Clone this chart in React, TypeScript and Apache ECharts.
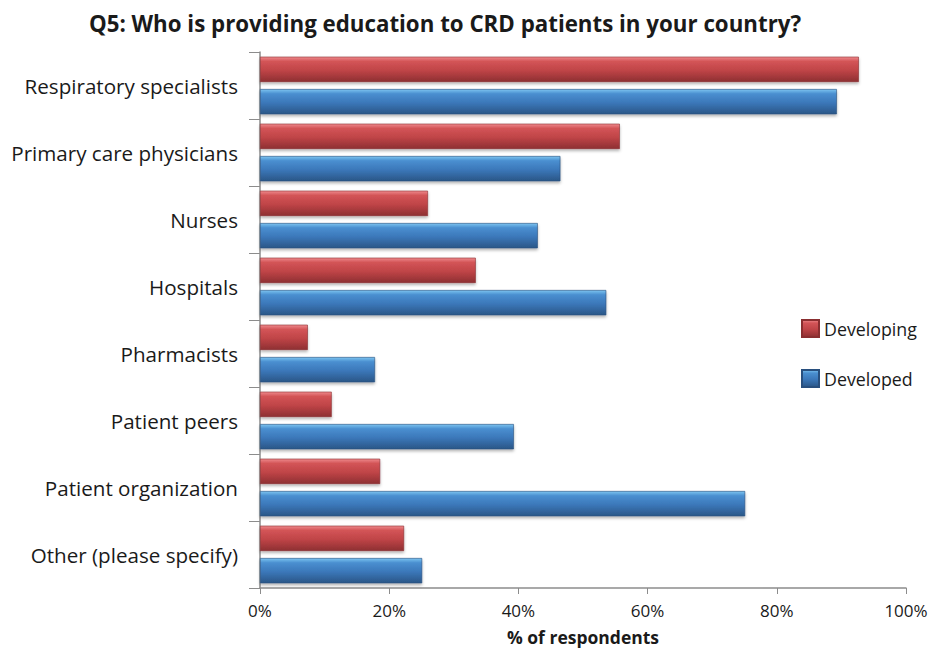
import React, { useEffect, useRef } from "react";
import * as echarts from "echarts";

const categories = [
  "Respiratory specialists",
  "Primary care physicians",
  "Nurses",
  "Hospitals",
  "Pharmacists",
  "Patient peers",
  "Patient organization",
  "Other (please specify)",
];
const developing = [92.7, 55.7, 26.0, 33.4, 7.4, 11.1, 18.6, 22.3];
const developed = [89.3, 46.5, 43.0, 53.6, 17.8, 39.3, 75.1, 25.1];
const xTicks = [0, 20, 40, 60, 80, 100];

const FONT = "'Open Sans', 'Noto Sans', sans-serif";

const redGrad = new echarts.graphic.LinearGradient(0, 0, 0, 1, [
  { offset: 0, color: "#ee8a8c" },
  { offset: 0.18, color: "#d35457" },
  { offset: 0.55, color: "#bf4447" },
  { offset: 1, color: "#8e3032" },
]);
const blueGrad = new echarts.graphic.LinearGradient(0, 0, 0, 1, [
  { offset: 0, color: "#7cc4f0" },
  { offset: 0.18, color: "#4a8fd0" },
  { offset: 0.55, color: "#3b77b9" },
  { offset: 1, color: "#2a5687" },
]);

export default function App() {
  const ref = useRef<HTMLDivElement>(null);
  useEffect(() => {
    if (!ref.current) return;
    const chart = echarts.init(ref.current, null, { renderer: "svg" });
    chart.setOption({
      animation: false,
      title: {
        text: "Q5: Who is providing education to CRD patients in your country?",
        left: 440,
        top: 7,
        textAlign: "center",
        textStyle: { fontFamily: FONT, fontSize: 22.3, fontWeight: "bold", color: "#1a1a1a" },
      },
      legend: {
        orient: "vertical",
        left: 796,
        top: 314,
        itemGap: 31,
        itemWidth: 17,
        itemHeight: 17,
        icon: "rect",
        textStyle: { fontFamily: FONT, fontSize: 17.8, color: "#1a1a1a" },
        data: ["Developing", "Developed"],
      },
      grid: { left: 260, right: 25, top: 52, bottom: 61, containLabel: false },
      xAxis: {
        type: "value",
        min: 0,
        max: 100,
        interval: 20,
        axisLine: { show: true, lineStyle: { color: "#8c8c8c", width: 1.5 } },
        axisTick: { show: true, length: 6, lineStyle: { color: "#8c8c8c" } },
        splitLine: { show: false },
        axisLabel: {
          formatter: (v: number) => (xTicks.includes(v) ? v + "%" : ""),
          fontFamily: FONT,
          fontSize: 17,
          color: "#1a1a1a",
          margin: 14,
        },
        name: "% of respondents",
        nameLocation: "middle",
        nameGap: 40,
        nameTextStyle: { fontFamily: FONT, fontSize: 17.5, fontWeight: "bold", color: "#1a1a1a" },
      },
      yAxis: {
        type: "category",
        inverse: true,
        data: categories,
        axisLine: { show: true, lineStyle: { color: "#8c8c8c", width: 1.5 } },
        axisTick: { show: true, length: 11, lineStyle: { color: "#8c8c8c" } },
        axisLabel: { fontFamily: FONT, fontSize: 20.6, color: "#1a1a1a", margin: 22, padding: [0, 0, 5, 0] },
      },
      series: [
        {
          name: "Developing",
          type: "bar",
          data: developing,
          barCategoryGap: "14%",
          barGap: "28%",
          itemStyle: {
            color: redGrad,
            borderColor: "#8a2e30",
            borderWidth: 0.6,
            shadowColor: "rgba(0,0,0,0.3)",
            shadowBlur: 3,
            shadowOffsetY: 2,
          },
        },
        {
          name: "Developed",
          type: "bar",
          data: developed,
          barCategoryGap: "14%",
          barGap: "28%",
          itemStyle: {
            color: blueGrad,
            borderColor: "#284f7e",
            borderWidth: 0.6,
            shadowColor: "rgba(0,0,0,0.3)",
            shadowBlur: 3,
            shadowOffsetY: 2,
          },
        },
      ],
    });
    return () => chart.dispose();
  }, []);
  return <div ref={ref} style={{ width: 931, height: 651, position: "absolute", left: 0, top: 0 }} />;
}
